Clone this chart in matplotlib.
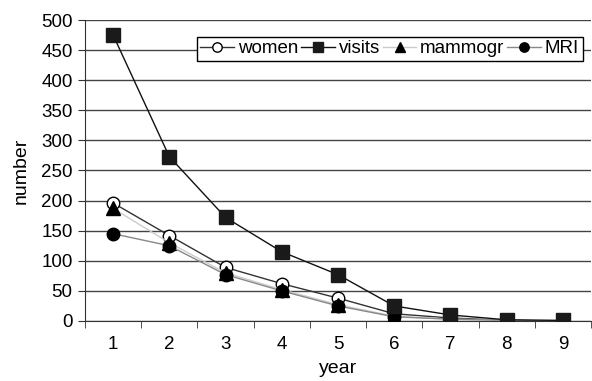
import matplotlib
matplotlib.use("Agg")
import matplotlib.pyplot as plt
import numpy as np

plt.rcParams['font.family'] = ['Liberation Sans', 'DejaVu Sans']

years = [1, 2, 3, 4, 5, 6, 7, 8, 9]
women = [196, 142, 89, 62, 38, 12, 5, 1, 0]
visits = [475, 273, 172, 115, 77, 25, 10, 2, 1]
mammogr = [187, 130, 80, 52, 27, 8, 3, 1, 0]
mri = [145, 125, 77, 50, 25, 7, 3, 1, 0]

fig = plt.figure(figsize=(5.92, 3.81), dpi=100)
ax = fig.add_axes([0.1436, 0.1575, 0.8546, 0.79])

ax.plot(years, women, color='#333333', lw=1, marker='o', ms=9,
        mfc='white', mec='black', mew=1, label='women', zorder=3)
ax.plot(years, visits, color='#111111', lw=1, marker='s', ms=10,
        mfc='#1a1a1a', mec='#1a1a1a', label='visits', zorder=4)
ax.plot(years, mammogr, color='#cccccc', lw=1, marker='^', ms=10,
        mfc='black', mec='black', label='mammogr', zorder=3)
ax.plot(years, mri, color='#888888', lw=1, marker='o', ms=9,
        mfc='black', mec='black', label='MRI', zorder=3)

ax.set_xlim(0.5, 9.5)
ax.set_ylim(0, 500)
ax.set_yticks(np.arange(0, 501, 50))
ax.set_xticks(years)
ax.set_xticks(np.arange(0.5, 9.6, 1), minor=True)
ax.tick_params(axis='x', which='major', length=0, pad=11, labelsize=13.5)
ax.tick_params(axis='x', which='minor', length=5, direction='out', color='#333333')
ax.tick_params(axis='y', length=5, direction='out', labelsize=13.5, pad=4, color='#333333')
ax.yaxis.grid(True, color='#444444', lw=1)
ax.set_axisbelow(True)
for s in ['top', 'right']:
    ax.spines[s].set_visible(False)
for s in ['left', 'bottom']:
    ax.spines[s].set_color('#333333')

ax.set_xlabel('year', fontsize=14, labelpad=5)
ax.set_ylabel('number', fontsize=14, labelpad=8)

leg = ax.legend(loc='upper right', bbox_to_anchor=(0.984, 0.945), ncol=4,
                fontsize=13.5, frameon=True, fancybox=False, edgecolor='black',
                handlelength=1.8, handletextpad=0.2, columnspacing=0.15,
                borderpad=0.2, borderaxespad=0, markerscale=0.75)
leg.get_frame().set_linewidth(1)
leg.get_frame().set_alpha(1)

fig.savefig('out.png', dpi=100)
